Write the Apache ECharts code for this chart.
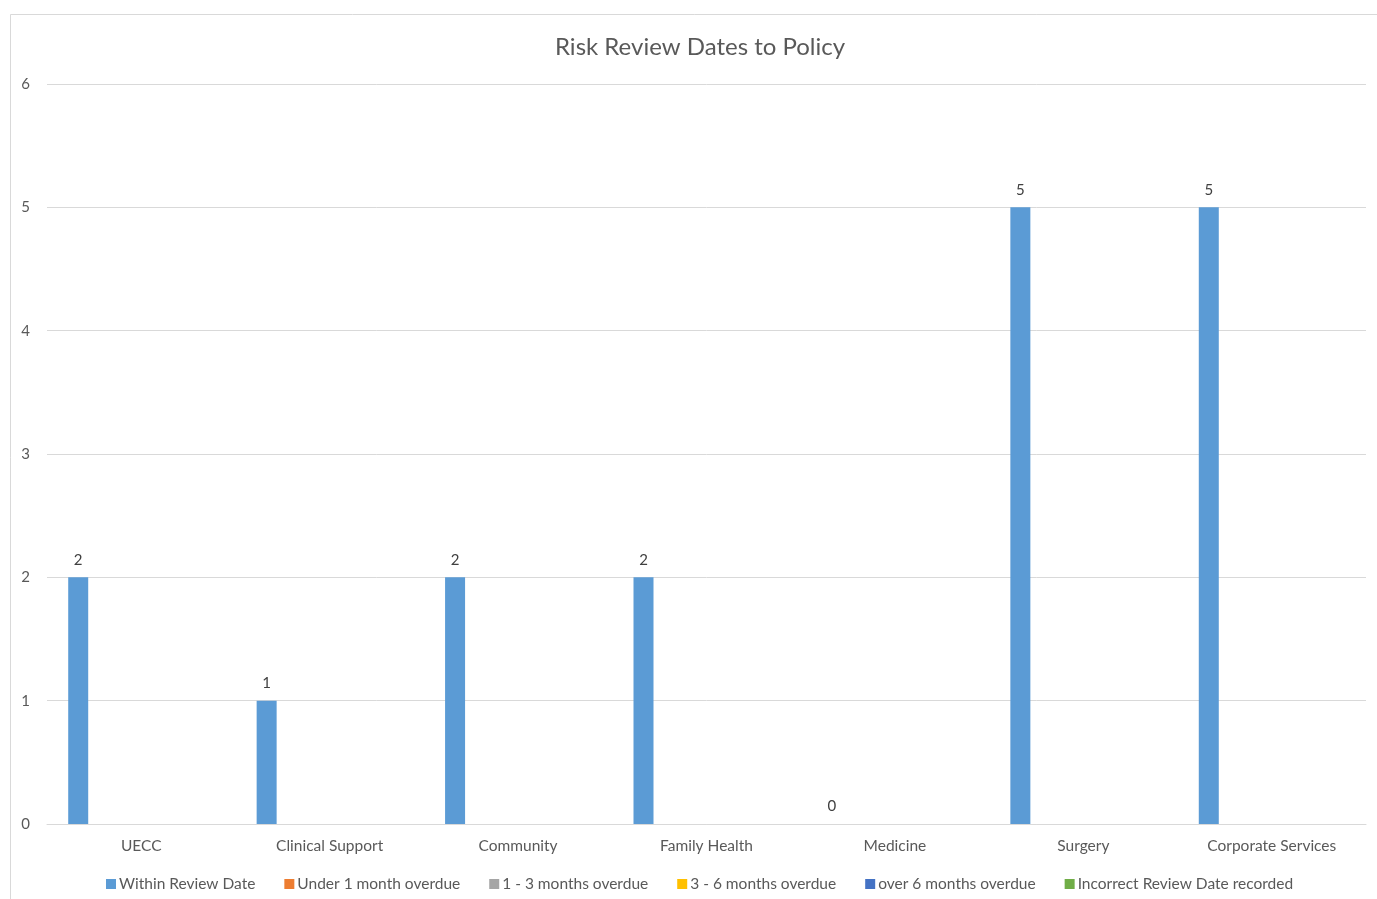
<!DOCTYPE html>
<html>
<head>
<meta charset="utf-8">
<title>Risk Review Dates to Policy</title>
<script src="https://cdn.jsdelivr.net/npm/echarts@6/dist/echarts.min.js"></script>
<style>
  html, body { margin: 0; padding: 0; background: #ffffff; }
  #chart { width: 1377px; height: 899px; }
</style>
</head>
<body>
<div id="chart"></div>
<script>
// Directorates along the x axis
const categories = ['UECC', 'Clinical Support', 'Community', 'Family Health', 'Medicine', 'Surgery', 'Corporate Services'];

// Review status counts per directorate
const withinReviewDate = [2, 1, 2, 2, 0, 5, 5];
const underOneMonth = [0, 0, 0, 0, 0, 0, 0];
const oneToThreeMonths = [0, 0, 0, 0, 0, 0, 0];
const threeToSixMonths = [0, 0, 0, 0, 0, 0, 0];
const overSixMonths = [0, 0, 0, 0, 0, 0, 0];
const incorrectReviewDate = [0, 0, 0, 0, 0, 0, 0];

const seriesNames = ['Within Review Date', 'Under 1 month overdue', '1 - 3 months overdue',
  '3 - 6 months overdue', 'over 6 months overdue', 'Incorrect Review Date recorded'];
const seriesData = [withinReviewDate, underOneMonth, oneToThreeMonths, threeToSixMonths, overSixMonths, incorrectReviewDate];
const seriesColors = ['#5b9bd5', '#ed7d31', '#a5a5a5', '#ffc000', '#4472c4', '#70ad47'];

// Value axis ticks
const yTicks = [0, 1, 2, 3, 4, 5, 6];

const font = 'Lato, "Open Sans", sans-serif';
const chart = echarts.init(document.getElementById('chart'), null, { renderer: 'canvas' });

chart.setOption({
  animation: false,
  backgroundColor: '#ffffff',
  textStyle: { fontFamily: font },
  graphic: [{
    type: 'rect',
    shape: { x: 10.5, y: 14.5, width: 1400, height: 920 },
    style: { fill: 'none', stroke: '#d9d9d9', lineWidth: 1 },
    silent: true, z: -10
  }],
  title: {
    text: 'Risk Review Dates to Policy',
    left: 555,
    top: 35,
    padding: 0,
    textStyle: { fontFamily: font, fontSize: 24, fontWeight: 'normal', color: '#595959' }
  },
  legend: {
    data: seriesNames,
    left: 106,
    top: 876,
    padding: 0,
    icon: 'rect',
    itemWidth: 10,
    itemHeight: 10,
    itemGap: 29,
    textStyle: { fontFamily: font, fontSize: 15.5, color: '#595959', padding: [0, 0, 0, -2] }
  },
  grid: { left: 47, right: 11, top: 84, bottom: 75, containLabel: false },
  xAxis: {
    type: 'category',
    data: categories,
    axisLine: { lineStyle: { color: '#d9d9d9' } },
    axisTick: { show: false },
    axisLabel: { fontFamily: font, fontSize: 15.5, color: '#595959', margin: 14, interval: 0 }
  },
  yAxis: {
    type: 'value',
    min: yTicks[0],
    max: yTicks[yTicks.length - 1],
    interval: 1,
    axisLine: { show: false },
    axisTick: { show: false },
    splitLine: { lineStyle: { color: '#d9d9d9' } },
    axisLabel: { fontFamily: font, fontSize: 15, color: '#595959', margin: 17 }
  },
  series: seriesNames.map((name, i) => ({
    name,
    type: 'bar',
    data: seriesData[i],
    barWidth: 20,
    barGap: '26%',
    itemStyle: { color: seriesColors[i] },
    label: i === 0 ? {
      show: true,
      position: 'top',
      distance: 10,
      fontFamily: font,
      fontSize: 15,
      color: '#404040'
    } : { show: false }
  }))
});
</script>
</body>
</html>
